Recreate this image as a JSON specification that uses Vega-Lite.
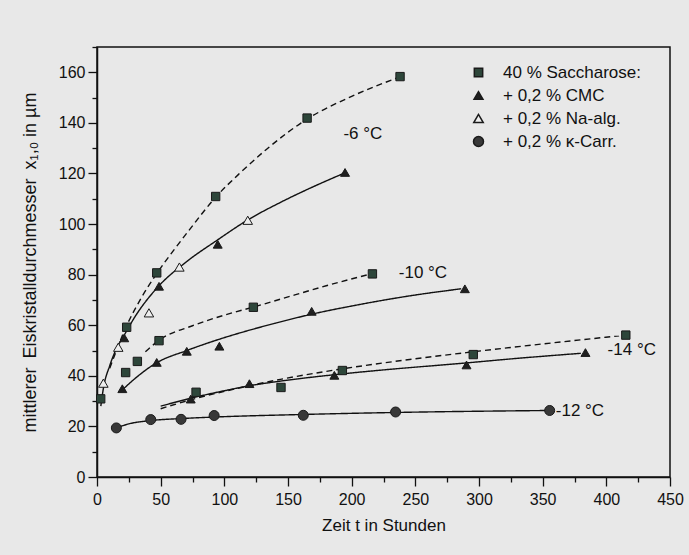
{
  "$schema": "https://vega.github.io/schema/vega-lite/v6.json",
  "width": 573,
  "height": 430,
  "autosize": {"type": "none"},
  "padding": {"left": 97, "top": 47, "right": 19, "bottom": 78},
  "background": "#e8e8e8",
  "config": {
    "font": "Liberation Sans",
    "view": {"stroke": "#111111", "strokeWidth": 1.5},
    "axis": {"grid": false, "domainColor": "#111111", "domainWidth": 1.5, "tickColor": "#111111", "tickWidth": 1.3, "labelColor": "#111111", "titleColor": "#111111", "labelFont": "Liberation Sans", "titleFont": "Liberation Sans"},
    "legend": {"title": null, "orient": "none", "legendX": 373, "legendY": 17, "padding": 0, "labelFontSize": 17, "labelFont": "Liberation Sans", "labelColor": "#111111", "rowPadding": 5, "labelOffset": 16}
  },
  "datasets": {
    "curves": [
      {"series": "s6", "style": "dashed", "t": 10, "d": 43},
      {"series": "s6", "style": "dashed", "t": 23, "d": 59.5},
      {"series": "s6", "style": "dashed", "t": 35, "d": 71},
      {"series": "s6", "style": "dashed", "t": 47, "d": 80.5},
      {"series": "s6", "style": "dashed", "t": 60, "d": 89.5},
      {"series": "s6", "style": "dashed", "t": 73, "d": 98},
      {"series": "s6", "style": "dashed", "t": 93, "d": 110.5},
      {"series": "s6", "style": "dashed", "t": 113, "d": 120.5},
      {"series": "s6", "style": "dashed", "t": 133, "d": 129.5},
      {"series": "s6", "style": "dashed", "t": 165, "d": 141.5},
      {"series": "s6", "style": "dashed", "t": 200, "d": 150.5},
      {"series": "s6", "style": "dashed", "t": 238, "d": 158.2},
      {"series": "c6", "style": "solid", "t": 3, "d": 28},
      {"series": "c6", "style": "solid", "t": 5, "d": 35},
      {"series": "c6", "style": "solid", "t": 10, "d": 44},
      {"series": "c6", "style": "solid", "t": 15.5, "d": 51},
      {"series": "c6", "style": "solid", "t": 20.7, "d": 55.5},
      {"series": "c6", "style": "solid", "t": 30, "d": 63.5},
      {"series": "c6", "style": "solid", "t": 48.5, "d": 75.5},
      {"series": "c6", "style": "solid", "t": 70, "d": 85},
      {"series": "c6", "style": "solid", "t": 94, "d": 93.5},
      {"series": "c6", "style": "solid", "t": 118, "d": 101.5},
      {"series": "c6", "style": "solid", "t": 145, "d": 108.8},
      {"series": "c6", "style": "solid", "t": 170, "d": 114.8},
      {"series": "c6", "style": "solid", "t": 195, "d": 120.3},
      {"series": "s10", "style": "dashed", "t": 38, "d": 49.5},
      {"series": "s10", "style": "dashed", "t": 48.5, "d": 54},
      {"series": "s10", "style": "dashed", "t": 75, "d": 59.8},
      {"series": "s10", "style": "dashed", "t": 100, "d": 64},
      {"series": "s10", "style": "dashed", "t": 123, "d": 67.2},
      {"series": "s10", "style": "dashed", "t": 144, "d": 70.3},
      {"series": "s10", "style": "dashed", "t": 180, "d": 75.6},
      {"series": "s10", "style": "dashed", "t": 216, "d": 80.4},
      {"series": "c10", "style": "solid", "t": 20.7, "d": 34.8},
      {"series": "c10", "style": "solid", "t": 30, "d": 39},
      {"series": "c10", "style": "solid", "t": 46.3, "d": 45},
      {"series": "c10", "style": "solid", "t": 70.5, "d": 50},
      {"series": "c10", "style": "solid", "t": 95, "d": 54.3},
      {"series": "c10", "style": "solid", "t": 118, "d": 57.8},
      {"series": "c10", "style": "solid", "t": 140, "d": 60.8},
      {"series": "c10", "style": "solid", "t": 168, "d": 64.3},
      {"series": "c10", "style": "solid", "t": 200, "d": 67.6},
      {"series": "c10", "style": "solid", "t": 248, "d": 71.8},
      {"series": "c10", "style": "solid", "t": 286, "d": 74.4},
      {"series": "s14", "style": "dashed", "t": 50, "d": 27},
      {"series": "s14", "style": "dashed", "t": 80, "d": 31.4},
      {"series": "s14", "style": "dashed", "t": 110, "d": 35},
      {"series": "s14", "style": "dashed", "t": 144, "d": 38.6},
      {"series": "s14", "style": "dashed", "t": 192, "d": 42.7},
      {"series": "s14", "style": "dashed", "t": 240, "d": 46.1},
      {"series": "s14", "style": "dashed", "t": 292, "d": 49.3},
      {"series": "s14", "style": "dashed", "t": 350, "d": 52.6},
      {"series": "s14", "style": "dashed", "t": 410, "d": 55.8},
      {"series": "c14", "style": "solid", "t": 50, "d": 28},
      {"series": "c14", "style": "solid", "t": 72.5, "d": 31},
      {"series": "c14", "style": "solid", "t": 100, "d": 34.1},
      {"series": "c14", "style": "solid", "t": 120, "d": 36.1},
      {"series": "c14", "style": "solid", "t": 144, "d": 37.9},
      {"series": "c14", "style": "solid", "t": 187.5, "d": 40.5},
      {"series": "c14", "style": "solid", "t": 222, "d": 42.2},
      {"series": "c14", "style": "solid", "t": 290, "d": 45.1},
      {"series": "c14", "style": "solid", "t": 330, "d": 46.9},
      {"series": "c14", "style": "solid", "t": 380, "d": 48.9},
      {"series": "k12", "style": "solid", "t": 15.2, "d": 19.4},
      {"series": "k12", "style": "solid", "t": 25, "d": 21},
      {"series": "k12", "style": "solid", "t": 42, "d": 22.3},
      {"series": "k12", "style": "solid", "t": 66, "d": 23.1},
      {"series": "k12", "style": "solid", "t": 92, "d": 23.7},
      {"series": "k12", "style": "solid", "t": 160, "d": 24.7},
      {"series": "k12", "style": "solid", "t": 233, "d": 25.5},
      {"series": "k12", "style": "solid", "t": 355, "d": 26.3}
    ],
    "points": [
      {"Probe": "40 % Saccharose:", "t": 2.9, "d": 30.9},
      {"Probe": "40 % Saccharose:", "t": 23.3, "d": 59.2},
      {"Probe": "40 % Saccharose:", "t": 46.9, "d": 80.7},
      {"Probe": "40 % Saccharose:", "t": 93.2, "d": 110.9},
      {"Probe": "40 % Saccharose:", "t": 165, "d": 141.9},
      {"Probe": "40 % Saccharose:", "t": 238, "d": 158.3},
      {"Probe": "40 % Saccharose:", "t": 22.5, "d": 41.3},
      {"Probe": "40 % Saccharose:", "t": 31.7, "d": 45.7},
      {"Probe": "40 % Saccharose:", "t": 48.7, "d": 53.9},
      {"Probe": "40 % Saccharose:", "t": 122.8, "d": 67.1},
      {"Probe": "40 % Saccharose:", "t": 216.3, "d": 80.3},
      {"Probe": "40 % Saccharose:", "t": 77.8, "d": 33.5},
      {"Probe": "40 % Saccharose:", "t": 144.5, "d": 35.4},
      {"Probe": "40 % Saccharose:", "t": 192.7, "d": 42.1},
      {"Probe": "40 % Saccharose:", "t": 295.5, "d": 48.4},
      {"Probe": "40 % Saccharose:", "t": 415.3, "d": 56.1},
      {"Probe": "+ 0,2 % CMC", "t": 21.4, "d": 55},
      {"Probe": "+ 0,2 % CMC", "t": 48.7, "d": 75.4},
      {"Probe": "+ 0,2 % CMC", "t": 94.8, "d": 92},
      {"Probe": "+ 0,2 % CMC", "t": 194.8, "d": 120.4},
      {"Probe": "+ 0,2 % CMC", "t": 19.9, "d": 34.9},
      {"Probe": "+ 0,2 % CMC", "t": 46.9, "d": 45.3},
      {"Probe": "+ 0,2 % CMC", "t": 70.5, "d": 49.7},
      {"Probe": "+ 0,2 % CMC", "t": 96.1, "d": 51.7},
      {"Probe": "+ 0,2 % CMC", "t": 168.6, "d": 65.5},
      {"Probe": "+ 0,2 % CMC", "t": 288.9, "d": 74.4},
      {"Probe": "+ 0,2 % CMC", "t": 73.6, "d": 30.8},
      {"Probe": "+ 0,2 % CMC", "t": 119.7, "d": 36.9},
      {"Probe": "+ 0,2 % CMC", "t": 186.4, "d": 40.2},
      {"Probe": "+ 0,2 % CMC", "t": 290.2, "d": 44.3},
      {"Probe": "+ 0,2 % CMC", "t": 383.6, "d": 49.2},
      {"Probe": "+ 0,2 % Na-alg.", "t": 5, "d": 37.1},
      {"Probe": "+ 0,2 % Na-alg.", "t": 16.7, "d": 51.3},
      {"Probe": "+ 0,2 % Na-alg.", "t": 40.8, "d": 64.9},
      {"Probe": "+ 0,2 % Na-alg.", "t": 64.7, "d": 83},
      {"Probe": "+ 0,2 % Na-alg.", "t": 118.4, "d": 101.5},
      {"Probe": "+ 0,2 % κ-Carr.", "t": 15.2, "d": 19.4},
      {"Probe": "+ 0,2 % κ-Carr.", "t": 42.2, "d": 22.7},
      {"Probe": "+ 0,2 % κ-Carr.", "t": 66, "d": 22.8},
      {"Probe": "+ 0,2 % κ-Carr.", "t": 92, "d": 24.3},
      {"Probe": "+ 0,2 % κ-Carr.", "t": 162, "d": 24.4},
      {"Probe": "+ 0,2 % κ-Carr.", "t": 234.5, "d": 25.7},
      {"Probe": "+ 0,2 % κ-Carr.", "t": 355.5, "d": 26.3}
    ],
    "labels": [
      {"t": 193.5, "d": 135.6, "label": "-6 °C"},
      {"t": 237, "d": 80.7, "label": "-10 °C"},
      {"t": 401, "d": 50.3, "label": "-14 °C"},
      {"t": 360.3, "d": 26.2, "label": "-12 °C"}
    ]
  },
  "layer": [
    {
      "data": {"name": "curves"},
      "mark": {"type": "line", "interpolate": "monotone", "color": "#111111", "strokeWidth": 1.4},
      "encoding": {
        "x": {"field": "t", "type": "quantitative", "scale": {"domain": [0, 450], "nice": false, "zero": false},
          "axis": {"orient": "bottom", "values": [0, 50, 100, 150, 200, 250, 300, 350, 400, 450], "tickSize": 9, "labelFontSize": 16, "labelPadding": 5, "labelFlush": false, "labelOverlap": false, "title": "Zeit t in Stunden", "titleFontSize": 17, "titleFontWeight": "normal", "titlePadding": 10}},
        "y": {"field": "d", "type": "quantitative", "scale": {"domain": [0, 170], "nice": false},
          "axis": {"orient": "left", "values": [0, 20, 40, 60, 80, 100, 120, 140, 160], "tickSize": 9, "labelFontSize": 16, "labelPadding": 3, "labelFlush": false, "labelOverlap": false, "title": "mittlerer\u2002Eiskristalldurchmesser\u2002x\u2081,\u2080 in µm", "titleFontSize": 18, "titleFontWeight": "normal", "titlePadding": 19}},
        "detail": {"field": "series", "type": "nominal"},
        "strokeDash": {"field": "style", "type": "nominal", "scale": {"domain": ["solid", "dashed"], "range": [[1, 0], [6, 4]]}, "legend": null}
      }
    },
    {
      "data": {"name": "points"},
      "mark": {"type": "point", "filled": true, "stroke": "#1a1a1a", "strokeWidth": 1, "opacity": 1},
      "encoding": {
        "x": {"field": "t", "type": "quantitative",
          "axis": {"orient": "bottom", "values": [25, 75, 125, 175, 225, 275, 325, 375, 425], "tickSize": 5, "labels": false, "domain": false, "title": null}},
        "y": {"field": "d", "type": "quantitative",
          "axis": {"orient": "left", "values": [10, 30, 50, 70, 90, 110, 130, 150, 170], "tickSize": 5, "labels": false, "domain": false, "title": null}},
        "shape": {"field": "Probe", "type": "nominal",
          "scale": {"domain": ["40 % Saccharose:", "+ 0,2 % CMC", "+ 0,2 % Na-alg.", "+ 0,2 % κ-Carr."], "range": ["square", "triangle-up", "triangle-up", "circle"]},
          "legend": {"encode": {"symbols": {"update": {"stroke": {"value": "#1a1a1a"}, "strokeWidth": {"value": 1}}}}}},
        "fill": {"field": "Probe", "type": "nominal",
          "scale": {"domain": ["40 % Saccharose:", "+ 0,2 % CMC", "+ 0,2 % Na-alg.", "+ 0,2 % κ-Carr."], "range": ["#2d463a", "#1f1f1f", "#eeeeee", "#383838"]},
          "legend": {"encode": {"symbols": {"update": {"stroke": {"value": "#1a1a1a"}, "strokeWidth": {"value": 1}}}}}},
        "size": {"field": "Probe", "type": "nominal",
          "scale": {"domain": ["40 % Saccharose:", "+ 0,2 % CMC", "+ 0,2 % Na-alg.", "+ 0,2 % κ-Carr."], "range": [70, 100, 100, 72]},
          "legend": {"encode": {"symbols": {"update": {"stroke": {"value": "#1a1a1a"}, "strokeWidth": {"value": 1}}}}}}
      }
    },
    {
      "data": {"name": "labels"},
      "mark": {"type": "text", "align": "left", "baseline": "middle", "fontSize": 17, "font": "Liberation Sans", "color": "#111111"},
      "encoding": {
        "x": {"field": "t", "type": "quantitative", "axis": null},
        "y": {"field": "d", "type": "quantitative", "axis": null},
        "text": {"field": "label", "type": "nominal"}
      }
    }
  ],
  "resolve": {"axis": {"x": "independent", "y": "independent"}}
}
